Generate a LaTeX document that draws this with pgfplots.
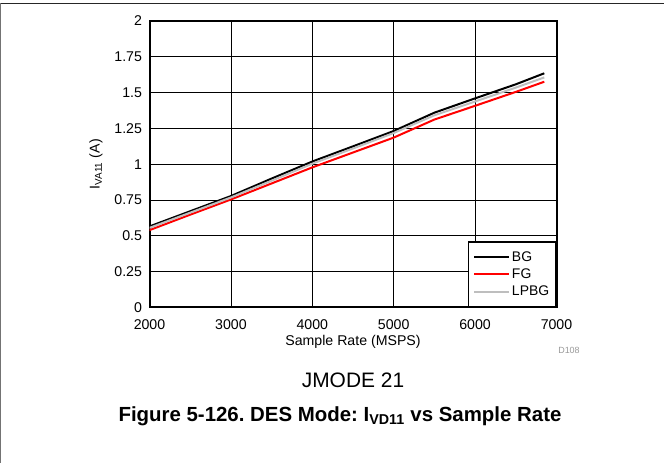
\documentclass[border=0pt]{standalone}
\usepackage{pgfplots}
\pgfplotsset{compat=1.18}
\usepackage{fontspec}
\setmainfont{Liberation Sans}
\definecolor{lpbg}{RGB}{190,190,190}
\definecolor{fgred}{RGB}{255,0,0}
\frenchspacing
\begin{document}
\begin{tikzpicture}
\useasboundingbox (0,0) rectangle (664bp,463bp);
\draw[line width=1.3bp, black!85] (0,459.7bp) -- (664bp,459.7bp);
\draw[line width=1bp, black!55] (0.5bp,0) -- (0.5bp,459.7bp);
\begin{axis}[
  at={(149.5bp,155.5bp)}, anchor=south west,
  scale only axis, width=407bp, height=286.5bp,
  xmin=2000, xmax=7000, ymin=0, ymax=2,
  xtick={2000,3000,4000,5000,6000,7000},
  ytick={0,0.25,0.5,0.75,1,1.25,1.5,1.75,2},
  yticklabels={0,0.25,0.5,0.75,1,1.25,1.5,1.75,2},
  /pgf/number format/.cd, 1000 sep={}, assume math mode=true,
  /pgfplots/.cd,
  grid=major,
  major grid style={line width=0.8bp, black},
  axis line style={line width=2bp},
  tick style={draw=none},
  ticklabel style={font=\fontsize{14.2}{16}\selectfont},
  xticklabel style={yshift=-9bp},
  yticklabel style={xshift=-4bp},
  xlabel={Sample Rate (MSPS)},
  ylabel={I\textsubscript{VA11} (A)},
  label style={font=\fontsize{14.2}{16}\selectfont},
  xlabel style={at={(axis description cs:0.5,-0.1204)}, anchor=center},
  ylabel style={at={(axis description cs:-0.1314,0.5)}, anchor=center},
  legend style={at={(rel axis cs:1,0)}, anchor=south east, draw=black,
    line width=1.6bp, fill=white, font=\fontsize{14}{16}\selectfont,
    inner xsep=4.5bp, inner ysep=7.5bp, row sep=2bp},
  legend cell align=left,
  legend image code/.code={\draw[#1] (0bp,0bp) -- (30bp,0bp); \path (-1bp,0bp) -- (34bp,0bp);},
]
\addplot[black, line width=2bp] coordinates {
(2000,0.566) (2500,0.672) (3000,0.778) (3500,0.900) (4000,1.019) (4500,1.125)
(5000,1.232) (5500,1.360) (6000,1.460) (6500,1.558) (6850,1.635)};
\addlegendentry{BG}
\addplot[fgred, line width=2bp] coordinates {
(2000,0.540) (2500,0.648) (3000,0.754) (3500,0.866) (4000,0.978) (4500,1.082)
(5000,1.186) (5500,1.312) (6000,1.408) (6500,1.505) (6850,1.576)};
\addlegendentry{FG}
\addplot[lpbg, line width=2bp] coordinates {
(2000,0.556) (2500,0.662) (3000,0.768) (3500,0.885) (4000,1.004) (4500,1.110)
(5000,1.218) (5500,1.342) (6000,1.438) (6500,1.535) (6850,1.606)};
\addlegendentry{LPBG}
\end{axis}
\node[text=black!40, font=\fontsize{9}{10}\selectfont] at (569bp,113bp) {D108};
\node[font=\fontsize{21}{24}\selectfont] at (353bp,83bp) {JMODE 21};
\node[font=\fontsize{20.5}{24}\selectfont\bfseries] at (340bp,47bp) {Figure 5-126. DES Mode: I\textsubscript{VD11} vs Sample Rate};
\end{tikzpicture}
\end{document}
